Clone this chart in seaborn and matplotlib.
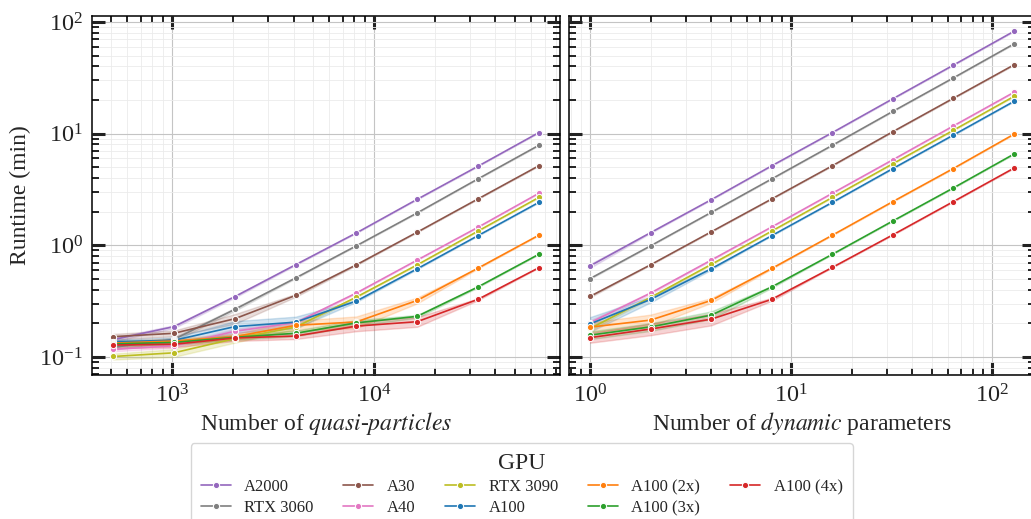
import numpy as np
import pandas as pd
import matplotlib
matplotlib.use("Agg")
import matplotlib.pyplot as plt
import seaborn as sns

gpus = ["A2000", "RTX 3060", "A30", "A40", "RTX 3090", "A100",
        "A100 (2x)", "A100 (3x)", "A100 (4x)"]
gpu_colors = ["#9467bd", "#7f7f7f", "#8c564b", "#e377c2", "#bcbd22",
              "#1f77b4", "#ff7f0e", "#2ca02c", "#d62728"]

particles = [512, 1024, 2048, 4096, 8192, 16384, 32768, 65536]
params = [1, 2, 4, 8, 16, 32, 64, 128]

# mean runtime (min) per GPU, left panel: varying number of quasi-particles
runtime_particles = {
    "A2000":     [0.143, 0.187, 0.347, 0.67, 1.29, 2.58, 5.1, 10.2],
    "RTX 3060":  [0.122, 0.144, 0.267, 0.51, 0.99, 1.95, 3.93, 7.85],
    "A30":       [0.152, 0.163, 0.22, 0.356, 0.669, 1.31, 2.6, 5.15],
    "A40":       [0.117, 0.126, 0.17, 0.203, 0.374, 0.737, 1.45, 2.92],
    "RTX 3090":  [0.101, 0.109, 0.146, 0.185, 0.344, 0.668, 1.34, 2.68],
    "A100":      [0.137, 0.141, 0.187, 0.205, 0.317, 0.616, 1.22, 2.42],
    "A100 (2x)": [0.133, 0.139, 0.152, 0.192, 0.206, 0.321, 0.624, 1.23],
    "A100 (3x)": [0.131, 0.135, 0.150, 0.163, 0.202, 0.231, 0.424, 0.83],
    "A100 (4x)": [0.128, 0.130, 0.148, 0.154, 0.189, 0.207, 0.328, 0.629],
}
# relative spread between runs (half width of the band)
spread_particles = {
    "A2000":     [0.04, 0.03, 0.02, 0.01, 0, 0, 0, 0],
    "RTX 3060":  [0.05, 0.04, 0.03, 0.01, 0, 0, 0, 0],
    "A30":       [0.06, 0.06, 0.10, 0.03, 0.01, 0, 0, 0],
    "A40":       [0.04, 0.04, 0.05, 0.03, 0.01, 0, 0, 0],
    "RTX 3090":  [0.06, 0.08, 0.08, 0.04, 0.01, 0, 0, 0],
    "A100":      [0.04, 0.06, 0.12, 0.12, 0.02, 0.01, 0, 0],
    "A100 (2x)": [0.05, 0.05, 0.06, 0.10, 0.12, 0.06, 0.01, 0],
    "A100 (3x)": [0.05, 0.05, 0.05, 0.06, 0.06, 0.03, 0.01, 0],
    "A100 (4x)": [0.06, 0.06, 0.06, 0.06, 0.10, 0.10, 0.02, 0],
}

# right panel: varying number of dynamic parameters
runtime_params = {
    "A2000":     [0.655, 1.30, 2.56, 5.15, 10.2, 20.5, 41.0, 82.3],
    "RTX 3060":  [0.504, 0.99, 1.97, 3.93, 7.85, 15.8, 31.5, 63.4],
    "A30":       [0.349, 0.67, 1.32, 2.6, 5.15, 10.4, 20.7, 41.2],
    "A40":       [0.203, 0.374, 0.737, 1.46, 2.92, 5.83, 11.7, 23.4],
    "RTX 3090":  [0.18, 0.342, 0.674, 1.34, 2.68, 5.37, 10.7, 21.5],
    "A100":      [0.198, 0.328, 0.616, 1.22, 2.42, 4.86, 9.7, 19.4],
    "A100 (2x)": [0.185, 0.214, 0.321, 0.62, 1.23, 2.46, 4.87, 9.86],
    "A100 (3x)": [0.157, 0.186, 0.237, 0.424, 0.83, 1.65, 3.26, 6.55],
    "A100 (4x)": [0.149, 0.178, 0.218, 0.328, 0.633, 1.24, 2.46, 4.9],
}
spread_params = {
    "A2000":     [0.04, 0.01, 0, 0, 0, 0, 0, 0],
    "RTX 3060":  [0.01, 0, 0, 0, 0, 0, 0, 0],
    "A30":       [0.02, 0, 0, 0, 0, 0, 0, 0],
    "A40":       [0.05, 0.02, 0.01, 0, 0, 0, 0, 0],
    "RTX 3090":  [0.04, 0.02, 0.01, 0, 0, 0, 0, 0],
    "A100":      [0.15, 0.06, 0.02, 0, 0, 0, 0, 0],
    "A100 (2x)": [0.10, 0.12, 0.05, 0.01, 0, 0, 0, 0],
    "A100 (3x)": [0.08, 0.08, 0.08, 0.02, 0, 0, 0, 0],
    "A100 (4x)": [0.10, 0.12, 0.12, 0.03, 0, 0, 0, 0],
}


def to_long(xs, runtimes, spreads, xname):
    rows = []
    for gpu in gpus:
        for x, v, s in zip(xs, runtimes[gpu], spreads[gpu]):
            rows.append({xname: x, "Runtime": v * (1 - s), "GPU": gpu})
            rows.append({xname: x, "Runtime": v * (1 + s), "GPU": gpu})
    return pd.DataFrame(rows)


df_left = to_long(particles, runtime_particles, spread_particles, "particles")
df_right = to_long(params, runtime_params, spread_params, "params")

sns.set_style("ticks")
plt.rcParams["font.family"] = "serif"
plt.rcParams["font.serif"] = ["Liberation Serif", "DejaVu Serif"]
plt.rcParams["mathtext.fontset"] = "stix"

palette = dict(zip(gpus, gpu_colors))

fig = plt.figure(figsize=(10.31, 5.19), dpi=100)
ax1 = fig.add_axes([0.0892, 0.2775, 0.4540, 0.6917])
ax2 = fig.add_axes([0.5519, 0.2775, 0.4520, 0.6917], sharey=ax1)

line_kws = dict(marker="o", markersize=4.5, linewidth=1.2,
                errorbar=("pi", 100), hue_order=gpus, palette=palette)
sns.lineplot(data=df_left, x="particles", y="Runtime", hue="GPU",
             ax=ax1, legend=True, **line_kws)
sns.lineplot(data=df_right, x="params", y="Runtime", hue="GPU",
             ax=ax2, legend=False, **line_kws)

handles, labels = ax1.get_legend_handles_labels()
ax1.get_legend().remove()

for ax in (ax1, ax2):
    ax.set_xscale("log")
    ax.set_yscale("log")
    ax.grid(True, which="major", color="#c4c4c4", linewidth=0.8)
    ax.grid(True, which="minor", color="#ebebeb", linewidth=0.6)
    ax.set_axisbelow(True)
    ax.tick_params(which="both", direction="in", top=True, right=True,
                   colors="#222222", labelsize=17.5, pad=6.5)
    ax.tick_params(which="major", length=9.5, width=2.2)
    ax.tick_params(which="minor", length=5, width=1.4)
    for sp in ax.spines.values():
        sp.set_color("black")
        sp.set_linewidth(1.1)

ax1.set_ylim(0.069, 113)
ax2.tick_params(labelleft=False)
ax1.set_ylabel("Runtime (min)", fontsize=17, labelpad=6)
ax2.set_ylabel("")
ax1.set_xlabel(r"Number of $\mathit{quasi}$-$\mathit{particles}$", fontsize=17,
               labelpad=2)
ax2.set_xlabel(r"Number of $\mathit{dynamic}$ parameters", fontsize=17,
               labelpad=2)

fig.legend(handles, labels, loc="upper center", bbox_to_anchor=(0.506, 0.146),
           borderaxespad=0, ncol=5, title="GPU", fontsize=12, title_fontsize=17,
           frameon=True, handlelength=1.8, columnspacing=1.8,
           borderpad=0.6, labelspacing=0.3)

fig.savefig("out.png", dpi=100)
